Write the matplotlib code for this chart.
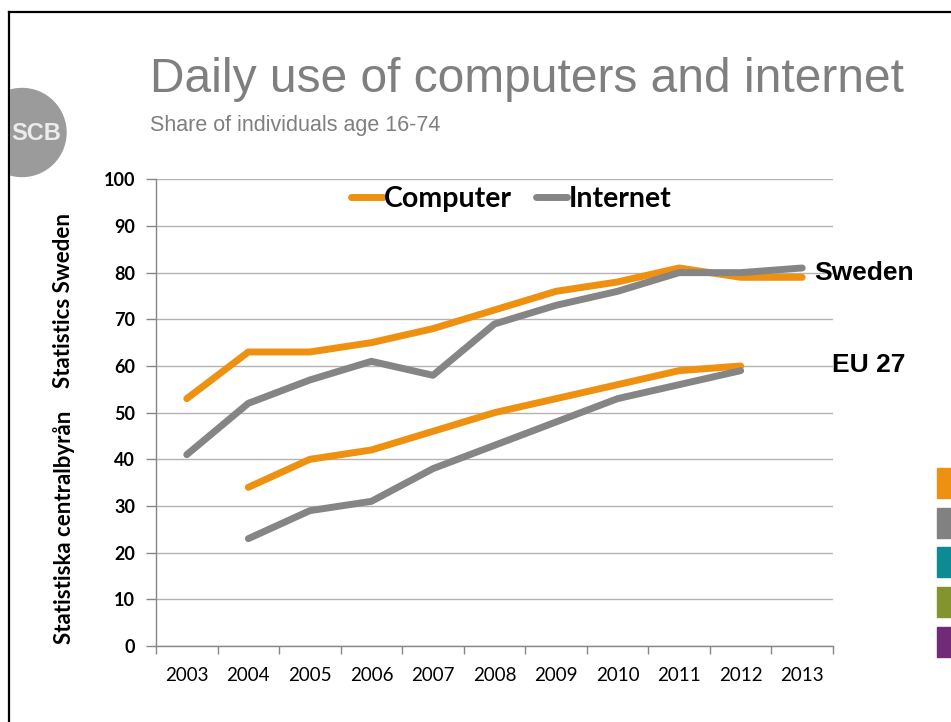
import matplotlib
matplotlib.use("Agg")
import matplotlib.pyplot as plt
from matplotlib.patches import Rectangle, Ellipse
from matplotlib.lines import Line2D

# ---- data ----
years = ["2003", "2004", "2005", "2006", "2007", "2008", "2009", "2010", "2011", "2012", "2013"]
swe_computer = [53, 63, 63, 65, 68, 72, 76, 78, 81, 79, 79]
swe_internet = [41, 52, 57, 61, 58, 69, 73, 76, 80, 80, 81]
eu_years = ["2004", "2005", "2006", "2007", "2008", "2009", "2010", "2011", "2012"]
eu_computer = [34, 40, 42, 46, 50, 53, 56, 59, 60]
eu_internet = [23, 29, 31, 38, 43, 48, 53, 56, 59]
yticks = [0, 10, 20, 30, 40, 50, 60, 70, 80, 90, 100]

ORANGE = "#EE9111"
GRAY = "#858585"
W, H = 951, 722

fig = plt.figure(figsize=(W / 100, H / 100), dpi=100)

def fx(px):
    return px / W

def fy(py):
    return 1 - py / H

ax = fig.add_axes([fx(156), fy(646), fx(833) - fx(156), fy(179.3) - fy(646)])

xi = list(range(len(years)))
eu_xi = [years.index(y) for y in eu_years]

lw = 5.0
for xs, ys, c in [(xi, swe_computer, ORANGE), (xi, swe_internet, GRAY),
                  (eu_xi, eu_computer, ORANGE), (eu_xi, eu_internet, GRAY)]:
    ax.plot(xs, ys, color=c, lw=lw, solid_capstyle="round", solid_joinstyle="round", zorder=3)

ax.set_xlim(-0.5, len(years) - 0.5)
ax.set_ylim(0, 100)
ax.set_yticks(yticks)
ax.set_yticklabels([str(v) for v in yticks], fontfamily="Lato", fontweight="bold", fontsize=13)
ax.set_xticks(xi)
ax.set_xticklabels(years, fontfamily="Lato", fontsize=13.5)
ax.set_xticks([i - 0.5 for i in range(len(years) + 1)], minor=True)
ax.tick_params(axis="x", which="major", length=0, pad=15)
ax.tick_params(axis="x", which="minor", length=6, color="#868686", width=1)
ax.tick_params(axis="y", which="major", length=7, color="#868686", width=1, pad=8)

ax.grid(axis="y", color="#B3B3B3", lw=1.0, zorder=0)
ax.set_axisbelow(True)
for s in ["top", "right"]:
    ax.spines[s].set_visible(False)
for s in ["left", "bottom"]:
    ax.spines[s].set_color("#868686")
    ax.spines[s].set_linewidth(1.0)

handles = [Line2D([0], [0], color=ORANGE, lw=lw, solid_capstyle="round"),
           Line2D([0], [0], color=GRAY, lw=lw, solid_capstyle="round")]
ax.legend(handles, ["Computer", "Internet"], loc="upper center", bbox_to_anchor=(0.525, 1.04),
          ncol=2, frameon=False, prop={"family": "Lato", "weight": "bold", "size": 20.5},
          handlelength=1.1, handletextpad=0.05, columnspacing=0.85)

ax.text(10.2, 80, "Sweden", fontfamily="Liberation Sans", fontweight="bold", fontsize=19,
        va="center", ha="left", clip_on=False)
ax.text(10.48, 60.2, "EU 27", fontfamily="Liberation Sans", fontweight="bold", fontsize=19,
        va="center", ha="left", clip_on=False)

# titles
fig.text(fx(150), fy(92), "Daily use of computers and internet", fontfamily="Liberation Sans",
         fontsize=34.5, color="#7F7F7F", ha="left", va="baseline")
fig.text(fx(150), fy(131), "Share of individuals age 16-74", fontfamily="Liberation Sans",
         fontsize=15.5, color="#7F7F7F", ha="left", va="baseline")

# side label
fig.text(fx(64), fy(301), "Statistics Sweden", rotation=90, fontfamily="Lato", fontweight="bold",
         fontsize=16, ha="center", va="center")
fig.text(fx(64), fy(527), "Statistiska centralbyrån", rotation=90, fontfamily="Lato", fontweight="bold",
         fontsize=16, ha="center", va="center")

# logo
r_px = 44
fig.add_artist(Ellipse((fx(22), fy(132.5)), 2 * r_px / W, 2 * r_px / H, color="#9B9B9B",
                       transform=fig.transFigure))
fig.add_artist(Rectangle((0, 0), fx(9), 1, color="white", transform=fig.transFigure))
fig.text(fx(36), fy(133), "SCB", fontfamily="Liberation Sans", fontweight="bold",
         fontsize=17, color="#ECECEC", ha="center", va="center")

# frame
fig.add_artist(Line2D([fx(9), 1], [fy(12), fy(12)], color="black", lw=1.6, transform=fig.transFigure))
fig.add_artist(Line2D([fx(9), fx(9)], [fy(12), 0], color="black", lw=1.6, transform=fig.transFigure))

# template swatches
for i, c in enumerate(["#EE9111", "#818181", "#0E8A94", "#83942F", "#712A77"]):
    top = 468 + i * 39.7
    fig.add_artist(Rectangle((fx(937), fy(top + 30)), fx(951) - fx(937), fy(top) - fy(top + 30),
                             color=c, transform=fig.transFigure))

fig.savefig("out.png", dpi=100)
